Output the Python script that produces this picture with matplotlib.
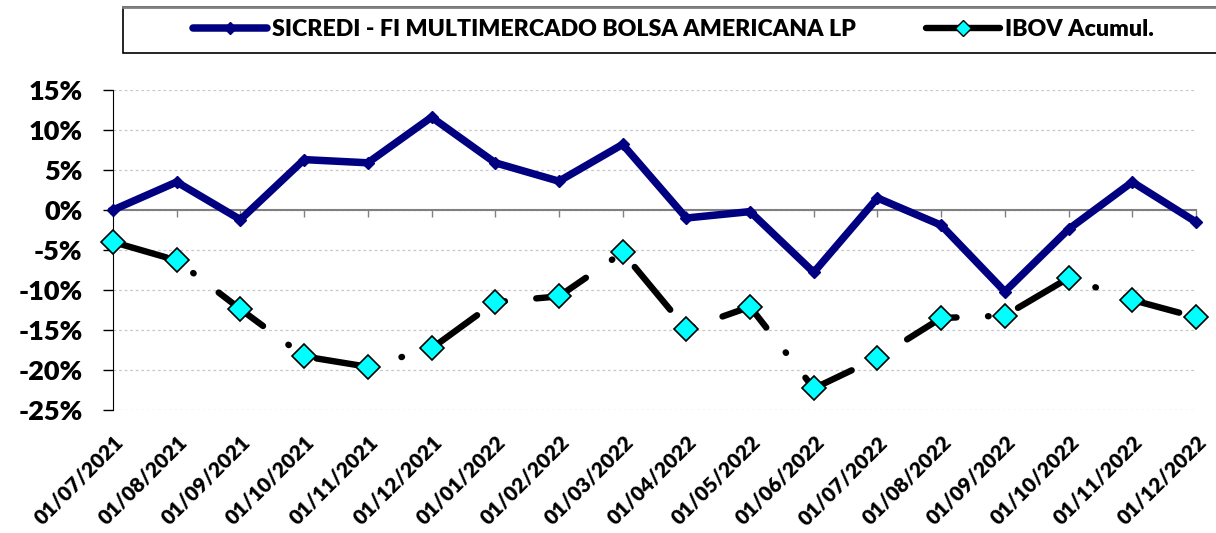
import matplotlib
matplotlib.use('Agg')
import matplotlib.pyplot as plt
from matplotlib.lines import Line2D
from matplotlib.patches import Rectangle
from matplotlib.transforms import ScaledTranslation
import numpy as np

# Dados (valores em %)
datas = ['01/07/2021', '01/08/2021', '01/09/2021', '01/10/2021', '01/11/2021',
         '01/12/2021', '01/01/2022', '01/02/2022', '01/03/2022', '01/04/2022',
         '01/05/2022', '01/06/2022', '01/07/2022', '01/08/2022', '01/09/2022',
         '01/10/2022', '01/11/2022', '01/12/2022']
sicredi = [0.0, 3.5, -1.2, 6.3, 5.9, 11.6, 5.9, 3.6, 8.2, -1.0,
           -0.2, -7.8, 1.5, -1.9, -10.2, -2.4, 3.5, -1.5]
ibov = [-4.0, -6.3, -12.4, -18.3, -19.6, -17.3, -11.5, -10.8, -5.3, -14.9,
        -12.1, -22.3, -18.5, -13.5, -13.2, -8.5, -11.25, -13.4]
y_ticks = [-25, -20, -15, -10, -5, 0, 5, 10, 15]

nome_fundo = 'SICREDI - FI MULTIMERCADO BOLSA AMERICANA LP'
nome_ibov = 'IBOV Acumul.'

NAVY = '#000080'
CYAN = '#00FFFF'
FONT = 'Lato'
PESO = 'heavy'

plt.rcParams['font.family'] = FONT
plt.rcParams['font.weight'] = PESO
plt.rcParams['lines.scale_dashes'] = False

W, H = 1216, 533
fig = plt.figure(figsize=(W / 100, H / 100), dpi=100)
ax = fig.add_axes([113 / W, 1 - 410 / H, (1196 - 113) / W, 320 / H])

x = np.arange(len(datas))

# Series
ax.plot(x, sicredi, color=NAVY, lw=5.4, marker='D', ms=6.5, mfc=NAVY, mec=NAVY,
        solid_joinstyle='miter', zorder=4, clip_on=False)
ax.plot(x, ibov, color='black', lw=4.6, dashes=(40, 22.7, 0.4, 22.7),
        dash_capstyle='round', marker='D', ms=12, mfc=CYAN, mec='black',
        mew=1.2, zorder=3, clip_on=False)

# Eixo Y
ax.set_ylim(-25, 15)
ax.set_yticks(y_ticks)
ax.set_yticklabels([f'{v}%' for v in y_ticks], fontsize=19.5, fontweight=PESO)
ax.tick_params(axis='y', direction='out', length=7, width=1, color='black', pad=15)
ax.yaxis.grid(True, linestyle=(0, (2, 2)), color='#c8c8c8', lw=0.9)
ax.set_axisbelow(True)

# Eixo X (linha no zero, rotulos embaixo)
ax.set_xlim(0, len(datas) - 1)
ax.spines['top'].set_visible(False)
ax.spines['right'].set_visible(False)
ax.spines['left'].set_color('black')
ax.spines['bottom'].set_position(('data', 0))
ax.spines['bottom'].set_color('#808080')
ax.spines['bottom'].set_linewidth(1.5)
ax.set_xticks(x)
ax.tick_params(axis='x', direction='out', length=5, width=1, color='#808080',
               labelbottom=False)

sec = ax.secondary_xaxis('bottom')
sec.set_xticks(x)
sec.set_xticklabels(datas, rotation=45, ha='right', va='center',
                    rotation_mode='anchor', fontsize=15, fontweight=PESO)
sec.tick_params(length=0, pad=21)
sec.spines['bottom'].set_visible(False)
desloc = ScaledTranslation(7 / 100, 0, fig.dpi_scale_trans)
for lbl in sec.get_xticklabels():
    lbl.set_transform(lbl.get_transform() + desloc)

# Legenda
caixa = Rectangle((123 / W, 1 - 53 / H), 1.0, 46 / H, transform=fig.transFigure,
                  facecolor='white', edgecolor='black', lw=1.2, zorder=0)
fig.patches.append(caixa)
fig.add_artist(Line2D([123 / W, 1.0], [1 - 7 / H, 1 - 7 / H],
                      transform=fig.transFigure, color='#808080', lw=2))

h1 = Line2D([], [], color=NAVY, lw=5.4, marker='D', ms=6.5, mfc=NAVY, mec=NAVY,
            solid_capstyle='round')
h2 = Line2D([], [], color='black', lw=4.6, marker='D', ms=8, mfc=CYAN, mec='black',
            mew=1, solid_capstyle='round')
fig.legend([h1, h2], [nome_fundo, nome_ibov], loc='center left',
           bbox_to_anchor=(193 / W, 1 - 30 / H), ncol=2, frameon=False,
           borderpad=0, borderaxespad=0, handlelength=3.2, handletextpad=0.22,
           columnspacing=3.0,
           prop={'family': FONT, 'weight': PESO, 'size': 16.7})

fig.savefig('out.png', dpi=100)
